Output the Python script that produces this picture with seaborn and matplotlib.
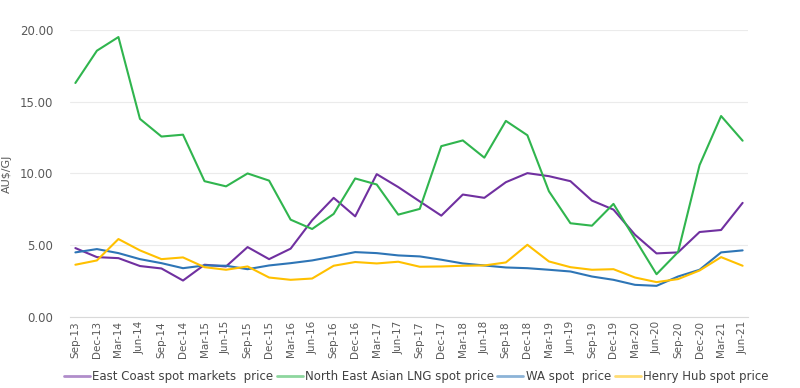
import pandas as pd
import matplotlib.pyplot as plt
import seaborn as sns

quarters = ['Sep-13', 'Dec-13', 'Mar-14', 'Jun-14', 'Sep-14', 'Dec-14', 'Mar-15', 'Jun-15',
	'Sep-15', 'Dec-15', 'Mar-16', 'Jun-16', 'Sep-16', 'Dec-16', 'Mar-17', 'Jun-17',
	'Sep-17', 'Dec-17', 'Mar-18', 'Jun-18', 'Sep-18', 'Dec-18', 'Mar-19', 'Jun-19',
	'Sep-19', 'Dec-19', 'Mar-20', 'Jun-20', 'Sep-20', 'Dec-20', 'Mar-21', 'Jun-21']

east_coast = [4.80, 4.17, 4.10, 3.55, 3.38, 2.54, 3.64, 3.52, 4.87, 4.03, 4.76, 6.74,
	8.30, 7.01, 9.95, 9.05, 8.05, 7.06, 8.53, 8.30, 9.39, 10.02, 9.81, 9.46,
	8.11, 7.48, 5.73, 4.43, 4.50, 5.92, 6.06, 7.95]
ne_asian_lng = [16.30, 18.55, 19.50, 13.80, 12.57, 12.70, 9.46, 9.10, 10.00, 9.50, 6.78, 6.13,
	7.18, 9.65, 9.23, 7.13, 7.53, 11.90, 12.30, 11.10, 13.66, 12.66, 8.76, 6.53,
	6.36, 7.88, 5.43, 2.98, 4.52, 10.58, 14.00, 12.28]
wa_spot = [4.50, 4.73, 4.45, 4.03, 3.75, 3.40, 3.59, 3.57, 3.33, 3.59, 3.75, 3.94,
	4.22, 4.52, 4.45, 4.29, 4.22, 3.99, 3.73, 3.59, 3.45, 3.40, 3.29, 3.17,
	2.82, 2.59, 2.24, 2.17, 2.82, 3.29, 4.50, 4.64]
henry_hub = [3.64, 3.94, 5.43, 4.64, 4.03, 4.15, 3.47, 3.29, 3.52, 2.75, 2.59, 2.68,
	3.57, 3.83, 3.73, 3.85, 3.50, 3.52, 3.57, 3.59, 3.80, 5.03, 3.87, 3.47,
	3.29, 3.33, 2.75, 2.43, 2.64, 3.24, 4.17, 3.57]

series_names = ['East Coast spot markets  price', 'North East Asian LNG spot price',
	'WA spot  price', 'Henry Hub spot price']
series_colours = {
	'East Coast spot markets  price': '#7030A0',
	'North East Asian LNG spot price': '#30B54E',
	'WA spot  price': '#2E75B6',
	'Henry Hub spot price': '#FFC000'
}

def main():
	df = pd.DataFrame({
		'idx': list(range(len(quarters))) * 4,
		'value': east_coast + ne_asian_lng + wa_spot + henry_hub,
		'series': [name for name in series_names for _ in quarters]
	})

	sns.set_style('white')
	plt.rcParams['font.family'] = ['DejaVu Sans']
	fig = plt.figure(figsize=(8, 3.88), dpi=100)
	ax = fig.add_axes([0.0875, 0.183, 0.8475, 0.74])

	sns.lineplot(data=df, x='idx', y='value', hue='series', hue_order=series_names,
		palette=series_colours, linewidth=1.5, ax=ax, legend=False)

	ax.set_xlim(-0.25, 31.25)
	ax.set_ylim(0, 20)
	ax.set_yticks([0, 5, 10, 15, 20])
	ax.set_yticklabels([f'{v:.2f}' for v in [0, 5, 10, 15, 20]], fontsize=8.5, color='#595959')
	ax.set_xticks(range(len(quarters)))
	ax.set_xticklabels(quarters, rotation=90, fontsize=7.5, color='#595959')
	ax.tick_params(axis='y', length=0, pad=12)
	ax.tick_params(axis='x', length=0, pad=3)
	ax.yaxis.grid(True, color='#EBEBEB', linewidth=0.8)
	ax.set_axisbelow(True)
	for side in ['top', 'right', 'left']:
		ax.spines[side].set_visible(False)
	ax.spines['bottom'].set_color('#D9D9D9')
	ax.set_xlabel('')
	ax.set_ylabel('AU$/GJ', fontsize=8, color='#595959')
	ax.yaxis.set_label_coords(-0.085, 0.5)

	handles = [plt.Line2D([], [], color=series_colours[n], linewidth=2, alpha=0.55) for n in series_names]
	fig.legend(handles, series_names, loc='lower center', ncol=4, bbox_to_anchor=(0.52, -0.015),
		frameon=False, fontsize=8.5, handlelength=2.2, handletextpad=0.2, columnspacing=0.3,
		labelcolor='#404040')

	fig.savefig('out.png', dpi=100)

if __name__ == '__main__':
	main()
